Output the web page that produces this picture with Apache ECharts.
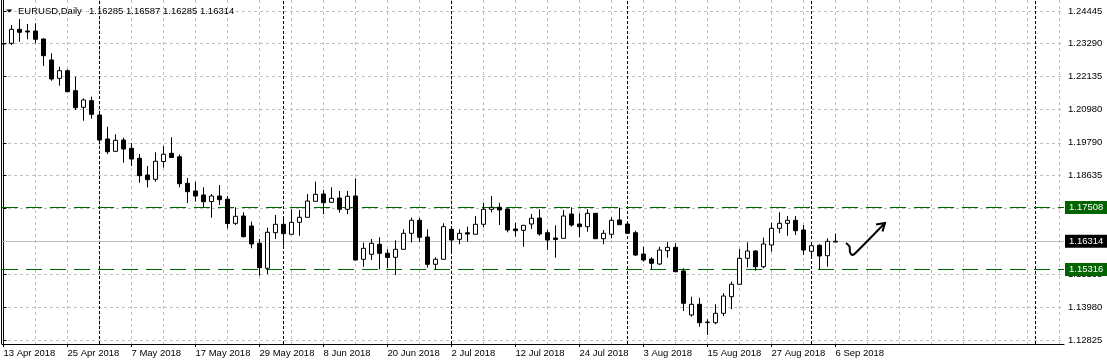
<!DOCTYPE html>
<html><head><meta charset="utf-8">
<script src="https://cdn.jsdelivr.net/npm/echarts@6/dist/echarts.min.js"></script>
<style>html,body{margin:0;padding:0;background:#fff}#c{width:1107px;height:364px}</style>
</head><body><div id="c"></div>
<script>
const symbolName = 'EURUSD,Daily';
const dates = [
 '13 Apr 2018','16 Apr 2018','17 Apr 2018','18 Apr 2018','19 Apr 2018','20 Apr 2018','23 Apr 2018','24 Apr 2018','25 Apr 2018','26 Apr 2018','27 Apr 2018','30 Apr 2018',
 '1 May 2018','2 May 2018','3 May 2018','4 May 2018','7 May 2018','8 May 2018','9 May 2018','10 May 2018','11 May 2018','14 May 2018','15 May 2018','16 May 2018','17 May 2018','18 May 2018','21 May 2018','22 May 2018','23 May 2018','24 May 2018','25 May 2018','28 May 2018','29 May 2018','30 May 2018','31 May 2018',
 '1 Jun 2018','4 Jun 2018','5 Jun 2018','6 Jun 2018','7 Jun 2018','8 Jun 2018','11 Jun 2018','12 Jun 2018','13 Jun 2018','14 Jun 2018','15 Jun 2018','18 Jun 2018','19 Jun 2018','20 Jun 2018','21 Jun 2018','22 Jun 2018','25 Jun 2018','26 Jun 2018','27 Jun 2018','28 Jun 2018','29 Jun 2018',
 '2 Jul 2018','3 Jul 2018','4 Jul 2018','5 Jul 2018','6 Jul 2018','9 Jul 2018','10 Jul 2018','11 Jul 2018','12 Jul 2018','13 Jul 2018','16 Jul 2018','17 Jul 2018','18 Jul 2018','19 Jul 2018','20 Jul 2018','23 Jul 2018','24 Jul 2018','25 Jul 2018','26 Jul 2018','27 Jul 2018','30 Jul 2018','31 Jul 2018',
 '1 Aug 2018','2 Aug 2018','3 Aug 2018','6 Aug 2018','7 Aug 2018','8 Aug 2018','9 Aug 2018','10 Aug 2018','13 Aug 2018','14 Aug 2018','15 Aug 2018','16 Aug 2018','17 Aug 2018','20 Aug 2018','21 Aug 2018','22 Aug 2018','23 Aug 2018','24 Aug 2018','27 Aug 2018','28 Aug 2018','29 Aug 2018','30 Aug 2018','31 Aug 2018',
 '3 Sep 2018','4 Sep 2018','5 Sep 2018','6 Sep 2018'
];
const open = [1.23298,1.23305,1.23799,1.23739,1.23739,1.23457,1.22715,1.22068,1.22337,1.21631,1.21044,1.21277,1.20772,1.19925,1.19490,1.19889,1.19596,1.19243,1.18653,1.18501,1.19130,1.19419,1.19296,1.18360,1.18088,1.17947,1.17717,1.17911,1.17798,1.16947,1.17205,1.16852,1.16241,1.15358,1.16615,1.16912,1.16559,1.16982,1.17159,1.17724,1.17982,1.17689,1.17841,1.17442,1.17911,1.15676,1.15852,1.16205,1.15891,1.15746,1.16029,1.16594,1.17053,1.16463,1.15499,1.15676,1.16735,1.16382,1.16612,1.16559,1.16912,1.17442,1.17512,1.17452,1.16746,1.16700,1.16922,1.17134,1.16615,1.16428,1.16417,1.17276,1.16922,1.16827,1.17300,1.16403,1.16559,1.17064,1.16922,1.16615,1.15863,1.15686,1.15510,1.15979,1.16099,1.15262,1.13708,1.14086,1.13440,1.13436,1.13768,1.14355,1.14793,1.15711,1.15969,1.15414,1.16181,1.16770,1.16947,1.17053,1.16710,1.15958,1.16170,1.15803,1.16285];
const close = [1.23280,1.23799,1.23693,1.23704,1.23446,1.22867,1.22044,1.22337,1.21595,1.21030,1.21302,1.20797,1.19889,1.19476,1.19879,1.19571,1.19218,1.18628,1.18487,1.19140,1.19388,1.19271,1.18346,1.18063,1.17911,1.17710,1.17911,1.17781,1.16940,1.17194,1.16474,1.16216,1.15379,1.16629,1.16912,1.16580,1.16982,1.17159,1.17735,1.17971,1.17675,1.17830,1.17442,1.17901,1.15651,1.16064,1.16241,1.15887,1.15739,1.16029,1.16594,1.17053,1.16453,1.15499,1.15676,1.16827,1.16357,1.16594,1.16569,1.16912,1.17442,1.17512,1.17417,1.16710,1.16686,1.16876,1.17124,1.16569,1.16357,1.16375,1.17205,1.16887,1.16827,1.17300,1.16403,1.16594,1.17053,1.16898,1.16594,1.15827,1.15651,1.15534,1.16004,1.16099,1.15238,1.14121,1.14086,1.13436,1.13461,1.13768,1.14379,1.14793,1.15711,1.15969,1.15414,1.16216,1.16770,1.16947,1.17053,1.16686,1.16004,1.16156,1.15792,1.16311,1.16314];
const low = [1.23103,1.23245,1.23361,1.23446,1.23305,1.22503,1.21984,1.21807,1.21580,1.20949,1.20571,1.20642,1.19854,1.19395,1.19465,1.19087,1.18971,1.18381,1.18212,1.18416,1.18911,1.19260,1.18219,1.17664,1.17717,1.17523,1.17145,1.17593,1.16770,1.16887,1.16446,1.16064,1.15096,1.15156,1.16393,1.16156,1.16552,1.16509,1.17152,1.17717,1.17265,1.17682,1.17321,1.17265,1.15633,1.15414,1.15651,1.15322,1.15358,1.15121,1.16022,1.16276,1.16297,1.15379,1.15298,1.15669,1.15909,1.16205,1.16297,1.16552,1.16806,1.17336,1.16887,1.16629,1.16474,1.16121,1.16746,1.16509,1.16004,1.15732,1.16410,1.16827,1.16453,1.16650,1.16393,1.16205,1.16417,1.16887,1.16587,1.15792,1.15591,1.15322,1.15474,1.15732,1.15227,1.13850,1.13648,1.13295,1.13002,1.13380,1.13673,1.13920,1.14786,1.15393,1.15273,1.15358,1.15944,1.16594,1.16509,1.16534,1.15827,1.15792,1.15322,1.15414,1.16285];
const high = [1.23457,1.23951,1.24163,1.23986,1.24011,1.23481,1.22951,1.22478,1.22386,1.22125,1.21362,1.21419,1.20832,1.20359,1.20091,1.19970,1.19783,1.19395,1.18971,1.19455,1.19677,1.19985,1.19377,1.18547,1.18416,1.18219,1.17982,1.18300,1.17911,1.17512,1.17336,1.17004,1.16393,1.16792,1.17240,1.17180,1.17442,1.17417,1.17982,1.18416,1.18123,1.18219,1.18088,1.18088,1.18536,1.16262,1.16393,1.16453,1.16029,1.16347,1.16735,1.17145,1.17145,1.16735,1.15746,1.16947,1.16827,1.16735,1.16827,1.17205,1.17675,1.17911,1.17675,1.17470,1.16968,1.16887,1.17276,1.17442,1.16710,1.16876,1.17417,1.17512,1.17300,1.17442,1.17311,1.16710,1.17159,1.17498,1.17004,1.16686,1.16121,1.15746,1.16121,1.16287,1.16241,1.15358,1.14355,1.14319,1.13556,1.14086,1.14475,1.14884,1.16039,1.16276,1.16004,1.16439,1.16968,1.17336,1.17205,1.17205,1.16887,1.16262,1.16205,1.16417,1.16587];
const yTickValues = [1.12825,1.13980,1.15135,1.16325,1.17480,1.18635,1.19790,1.20980,1.22135,1.23290,1.24445];
const levelLines = [1.17508, 1.15316];
const currentPrice = 1.16314;
const monthSeparators = [12, 35, 56, 78, 101, 129];
const yMin = 1.12684, yMax = 1.24834;
const xMin = -0.1875, xMax = 132.5625;

const FONT = 'Liberation Sans';
const FS = 9.5;
const last = dates.length - 1;

const gridTicks = [];
for (let i = 0; i <= xMax; i += 4) gridTicks.push(i);
const labelTicks = [];
for (let i = 0; i < dates.length; i += 8) labelTicks.push(i);

const candles = dates.map((d, i) => [i, open[i], close[i], low[i], high[i]]);

const chart = echarts.init(document.getElementById('c'), null, {renderer: 'canvas'});
chart.setOption({
  animation: false,
  backgroundColor: '#fff',
  grid: {left: 2, right: 43, top: 0, bottom: 20},
  xAxis: [{
    type: 'value', min: xMin, max: xMax, position: 'bottom',
    axisLine: {show: false},
    axisTick: {show: false, customValues: gridTicks},
    axisLabel: {show: false},
    splitLine: {show: true, lineStyle: {color: '#c0c0c0', type: [3, 3], width: 1}}
  }, {
    type: 'value', min: xMin, max: xMax, position: 'bottom',
    axisLine: {show: true, lineStyle: {color: '#000', width: 1}},
    axisTick: {show: true, length: 3, customValues: labelTicks, lineStyle: {color: '#000'}},
    axisLabel: {show: true, customValues: labelTicks, align: 'left', margin: 4,
      color: '#000', fontFamily: FONT, fontSize: FS,
      formatter: v => dates[Math.round(v)] || ''},
    splitLine: {show: false}
  }],
  yAxis: {
    type: 'value', min: yMin, max: yMax, position: 'right',
    axisLine: {show: true, lineStyle: {color: '#000', width: 1}},
    axisTick: {show: true, length: 3, customValues: yTickValues, lineStyle: {color: '#000'}},
    axisLabel: {show: true, customValues: yTickValues, margin: 4, color: '#000',
      fontFamily: FONT, fontSize: FS, formatter: v => v.toFixed(5)},
    splitLine: {show: true, lineStyle: {color: '#c0c0c0', type: [3, 3], width: 1}}
  },
  series: [{
    type: 'candlestick',
    xAxisIndex: 0,
    barWidth: 4,
    data: candles,
    itemStyle: {color: '#fff', color0: '#000', borderColor: '#000', borderColor0: '#000', borderWidth: 1},
    z: 5,
    markLine: {
      silent: true, symbol: 'none', animation: false, precision: 5,
      data: [
        ...monthSeparators.map(x => ({xAxis: x, lineStyle: {color: '#000', type: [3, 2], width: 1}, label: {show: false}})),
        {yAxis: currentPrice, lineStyle: {color: '#c0c0c0', type: 'solid', width: 1},
          label: {show: true, position: 'end', distance: 1, formatter: currentPrice.toFixed(5),
            backgroundColor: '#000', color: '#fff', padding: [2, 4, 1, 4], fontFamily: FONT, fontSize: FS}},
        ...levelLines.map(v => ({yAxis: v, lineStyle: {color: '#006400', type: [16, 8], width: 1},
          label: {show: true, position: 'end', distance: 1, formatter: v.toFixed(5),
            backgroundColor: '#006400', color: '#fff', padding: [2, 4, 1, 4], fontFamily: FONT, fontSize: FS}}))
      ]
    }
  }],
  graphic: [
    {type: 'line', shape: {x1: 1.5, y1: 0, x2: 1.5, y2: 344}, style: {stroke: '#000', lineWidth: 1}, z: 10},
    {type: 'polygon', shape: {points: [[6, 9.5], [12.5, 9.5], [9.25, 12.5]]}, style: {fill: '#000'}, z: 10},
    {type: 'text', x: 18, y: 11, style: {text: symbolName, fill: '#000', font: FS + 'px "' + FONT + '"', verticalAlign: 'middle'}, z: 10},
    {type: 'text', x: 89, y: 11, style: {text: [open[last], high[last], low[last], close[last]].map(v => v.toFixed(5)).join(' '), fill: '#000', font: FS + 'px "' + FONT + '"', verticalAlign: 'middle'}, z: 10},
    {type: 'polyline', shape: {points: [[846, 243], [849.5, 246.5], [850, 252], [852.5, 255], [857, 251.5], [885, 223]], smooth: 0.3}, style: {stroke: '#000', lineWidth: 2, fill: null}, z: 10},
    {type: 'polyline', shape: {points: [[876, 224.5], [885, 223], [882.5, 231.5]]}, style: {stroke: '#000', lineWidth: 2, fill: null}, z: 10}
  ]
});
</script></body></html>
